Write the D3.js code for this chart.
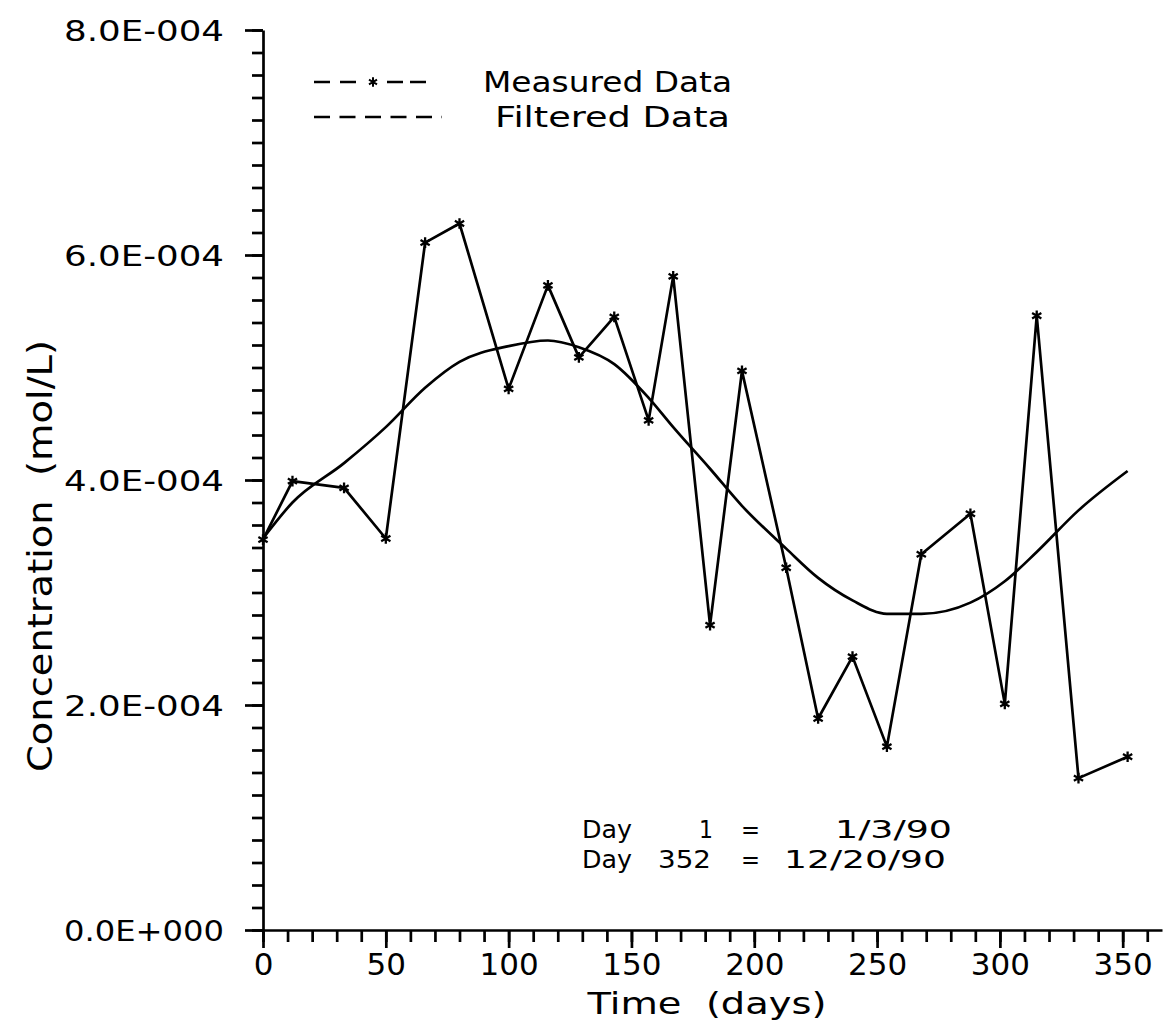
<!DOCTYPE html>
<html><head><meta charset="utf-8">
<script src="https://cdn.jsdelivr.net/npm/d3@7"></script>
<style>
body{margin:0;background:#fff}
svg text{font-family:"DejaVu Sans",sans-serif;fill:#000;white-space:pre}
</style>
</head><body><svg id="c" width="1163" height="1028"></svg>
<script>
// ---- data ----
const days = [0,12,33,50,66,80,100,116,128.6,143,157,167,182,195,213,226,240,254,268,288,302,315,332,352];
const measured = [3.47e-4,3.99e-4,3.93e-4,3.48e-4,6.11e-4,6.28e-4,4.81e-4,5.73e-4,5.09e-4,5.45e-4,4.53e-4,5.81e-4,2.71e-4,4.97e-4,3.22e-4,1.88e-4,2.43e-4,1.63e-4,3.34e-4,3.70e-4,2.01e-4,5.46e-4,1.35e-4,1.54e-4];
const filtered = [3.48e-4,3.80e-4,4.15e-4,4.47e-4,4.82e-4,5.05e-4,5.19e-4,5.24e-4,5.18e-4,5.03e-4,4.73e-4,4.47e-4,4.10e-4,3.77e-4,3.39e-4,3.13e-4,2.93e-4,2.81e-4,2.81e-4,2.91e-4,3.10e-4,3.36e-4,3.73e-4,4.08e-4];
const yTickValues = [0,2e-4,4e-4,6e-4,8e-4];
const yTickLabels = ["0.0E+000","2.0E-004","4.0E-004","6.0E-004","8.0E-004"];
const xTickValues = [0,50,100,150,200,250,300,350];
const xTickLabels = ["0","50","100","150","200","250","300","350"];
const legendLabels = ["Measured Data","Filtered Data"];
const noteRows = [["Day","1","=","1/3/90"],["Day","352","=","12/20/90"]];
const xTitle = "Time  (days)";
const yTitle = "Concentration  (mol/L)";

// ---- scales ----
const svg = d3.select("#c");
const x = d3.scaleLinear().domain([0,366]).range([263,1162]);
const y = d3.scaleLinear().domain([0,8e-4]).range([930,30]);
const SW = 2.7;

// ---- y axis ----
const gyMinor = svg.append("g").attr("transform","translate(263,0)")
  .call(d3.axisLeft(y).tickValues(d3.range(0,41).map(i=>i*2e-5)).tickSize(11).tickFormat(""));
gyMinor.select(".domain").remove();
const gy = svg.append("g").attr("transform","translate(263,0)")
  .call(d3.axisLeft(y).tickValues(yTickValues).tickSize(18).tickSizeOuter(0).tickPadding(21)
    .tickFormat((d,i)=>yTickLabels[i]));
gy.attr("font-size",28).attr("font-family","DejaVu Sans");
gy.selectAll(".tick text").attr("dy","0.36em").attr("textLength",160).attr("lengthAdjust","spacingAndGlyphs");

// ---- x axis ----
const gxMinor = svg.append("g").attr("transform","translate(0,930)")
  .call(d3.axisBottom(x).tickValues(d3.range(0,361,10)).tickSize(12).tickFormat(""));
gxMinor.select(".domain").remove();
const gx = svg.append("g").attr("transform","translate(0,930)")
  .call(d3.axisBottom(x).tickValues(xTickValues).tickSize(18).tickSizeOuter(0).tickPadding(5)
    .tickFormat((d,i)=>xTickLabels[i]));
gx.attr("font-size",31).attr("font-family","DejaVu Sans");

svg.selectAll(".domain, .tick line").attr("stroke","#000").attr("stroke-width",SW);
svg.selectAll(".tick text").attr("fill","#000");

// ---- titles ----
svg.append("text").attr("x",707).attr("y",1014).attr("text-anchor","middle")
  .attr("font-size",31).attr("textLength",239).attr("lengthAdjust","spacingAndGlyphs").text(xTitle);
svg.append("text").attr("transform","translate(52,556) rotate(-90)").attr("text-anchor","middle")
  .attr("font-size",34).attr("textLength",432).attr("lengthAdjust","spacingAndGlyphs").text(yTitle);

// ---- lines ----
const lineGen = d3.line().x((d,i)=>x(days[i])).y(d=>y(d));
svg.append("path").datum(filtered).attr("d",lineGen.curve(d3.curveMonotoneX))
  .attr("fill","none").attr("stroke","#000").attr("stroke-width",SW).attr("stroke-linejoin","round");
svg.append("path").datum(measured).attr("d",d3.line().x((d,i)=>x(days[i])).y(d=>y(d)))
  .attr("fill","none").attr("stroke","#000").attr("stroke-width",SW).attr("stroke-linejoin","round");
const star = d3.symbol().type(d3.symbolAsterisk).size(80);
svg.append("g").selectAll("path").data(measured).join("path")
  .attr("transform",(d,i)=>`translate(${x(days[i])},${y(d)})`)
  .attr("d",star).attr("fill","none").attr("stroke","#000").attr("stroke-width",2.3);

// ---- legend ----
const lg = svg.append("g");
lg.append("line").attr("x1",314).attr("x2",358).attr("y1",82).attr("y2",82)
  .attr("stroke","#000").attr("stroke-width",SW).attr("stroke-dasharray","16,10");
lg.append("line").attr("x1",387).attr("x2",426).attr("y1",82).attr("y2",82)
  .attr("stroke","#000").attr("stroke-width",SW).attr("stroke-dasharray","16,7");
lg.append("path").attr("transform","translate(373,82)").attr("d",d3.symbol().type(d3.symbolAsterisk).size(60))
  .attr("fill","none").attr("stroke","#000").attr("stroke-width",2);
lg.append("line").attr("x1",314).attr("x2",442).attr("y1",117).attr("y2",117)
  .attr("stroke","#000").attr("stroke-width",SW).attr("stroke-dasharray","16,9.5");
lg.append("text").attr("x",483).attr("y",92).attr("font-size",28)
  .attr("textLength",249).attr("lengthAdjust","spacingAndGlyphs").text(legendLabels[0]);
lg.append("text").attr("x",495).attr("y",127).attr("font-size",28)
  .attr("textLength",235).attr("lengthAdjust","spacingAndGlyphs").text(legendLabels[1]);

// ---- notes ----
const ng = svg.append("g").attr("font-size",25);
const baselines = [838,868];
const starts = [[582,699,741,835],[582,658,741,784]];
const widths = [[50,14,19,117],[50,53,19,162]];
noteRows.forEach((r,k)=>{
  r.forEach((s,j)=>{
    ng.append("text").attr("x",starts[k][j]).attr("y",baselines[k])
      .attr("textLength",widths[k][j]).attr("lengthAdjust","spacingAndGlyphs").text(s);
  });
});
</script>
</body></html>
